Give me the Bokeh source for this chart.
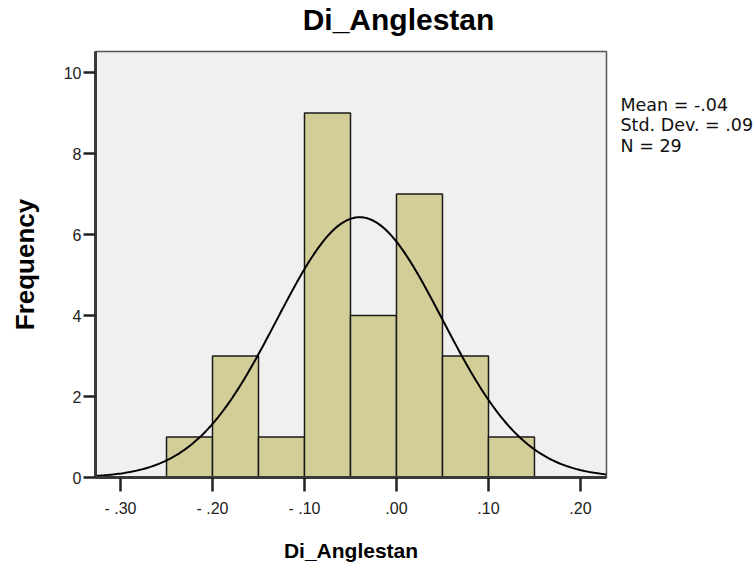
import numpy as np
from bokeh.plotting import figure
from bokeh.models import ColumnDataSource, FixedTicker, Label, Range1d
from bokeh.embed import file_html
from bokeh.resources import INLINE

# Histogram of Di_Anglestan: bin edges and counts
bin_left = [-0.25, -0.20, -0.15, -0.10, -0.05, 0.00, 0.05, 0.10]
bin_right = [-0.20, -0.15, -0.10, -0.05, 0.00, 0.05, 0.10, 0.15]
counts = [1, 3, 1, 9, 4, 7, 3, 1]

# Summary statistics shown beside the chart
mean_val = -0.04
std_val = 0.09
n_val = 29

x_ticks = [-0.30, -0.20, -0.10, 0.00, 0.10, 0.20]
x_tick_labels = ["- .30", "- .20", "- .10", ".00", ".10", ".20"]
y_ticks = [0, 2, 4, 6, 8, 10]

x_lo, x_hi = -0.3272, 0.2283
y_lo, y_hi = 0, 10.52

p = figure(width=754, height=569, output_backend="svg", toolbar_location=None,
           x_range=Range1d(x_lo, x_hi), y_range=Range1d(y_lo, y_hi),
           min_border_left=95, min_border_right=148, min_border_top=51,
           min_border_bottom=92)
p.background_fill_color = "#F0F0F0"
p.border_fill_color = "white"
p.outline_line_color = "#555555"
p.outline_line_width = 1.5
p.xgrid.visible = False
p.ygrid.visible = False

src = ColumnDataSource(dict(left=bin_left, right=bin_right, top=counts,
                            bottom=[0] * len(counts)))
p.quad(left="left", right="right", top="top", bottom="bottom", source=src,
       fill_color="#D3CE97", line_color="#1a1a1a", line_width=1.5)

# Normal curve scaled to the histogram (N * bin width * pdf)
bin_w = bin_right[0] - bin_left[0]
xs = np.linspace(x_lo, x_hi, 300)
ys = n_val * bin_w * np.exp(-0.5 * ((xs - mean_val) / std_val) ** 2) / (std_val * np.sqrt(2 * np.pi))
p.line(xs, ys, line_color="black", line_width=2)

for ax in (p.xaxis[0], p.yaxis[0]):
    ax.axis_line_color = "#3a3a3a"
    ax.axis_line_width = 3
    ax.major_tick_line_color = "#222222"
    ax.major_tick_line_width = 2.5
    ax.minor_tick_line_color = None
    ax.major_tick_in = 0
    ax.major_label_text_font = "Liberation Sans"
    ax.major_label_text_font_size = "16px"
    ax.major_label_text_color = "#222222"
    ax.axis_label_text_font = "Liberation Sans"
    ax.axis_label_text_font_style = "bold"
    ax.axis_label_text_color = "black"

p.xaxis.ticker = FixedTicker(ticks=x_ticks)
p.xaxis.major_label_overrides = {t: s for t, s in zip(x_ticks, x_tick_labels)}
p.xaxis.major_tick_out = 14
p.xaxis.major_label_standoff = 8
p.xaxis.axis_label = "Di_Anglestan"
p.xaxis.axis_label_text_font_size = "21px"
p.xaxis.axis_label_standoff = 19

p.yaxis.ticker = FixedTicker(ticks=y_ticks)
p.yaxis.major_tick_out = 12
p.yaxis.major_label_standoff = 2
p.yaxis.axis_label = "Frequency"
p.yaxis.axis_label_text_font_size = "26px"
p.yaxis.axis_label_standoff = 21

# Chart heading, placed in the top border
p.add_layout(Label(x=303, y=32, x_units="screen", y_units="screen",
                   text="Di_Anglestan", text_font="Liberation Sans",
                   text_font_style="bold", text_font_size="30px",
                   text_align="center", text_baseline="middle",
                   text_color="black"), "above")

# Statistics block to the right of the plot area
stats_text = "Mean = -.04\nStd. Dev. = .09\nN = %d" % n_val
p.add_layout(Label(x=14, y=383, x_units="screen", y_units="screen",
                   text=stats_text, text_font="DejaVu Sans",
                   text_font_size="17.5px", text_line_height=1.03,
                   text_align="left", text_baseline="top",
                   text_color="#111111"), "right")

open("out.html", "w").write(file_html(p, INLINE))
